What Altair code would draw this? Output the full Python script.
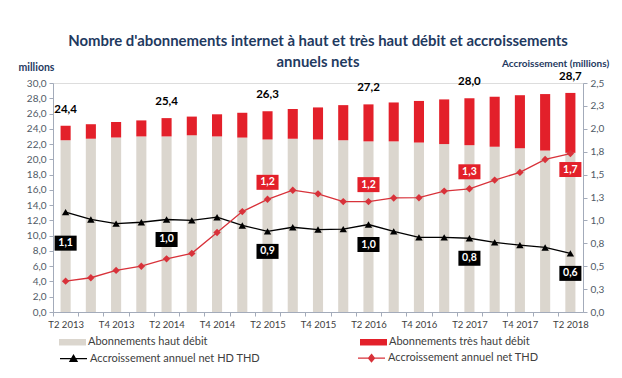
import altair as alt
import pandas as pd

quarters = ["T2 2013", "T3 2013", "T4 2013", "T1 2014", "T2 2014", "T3 2014", "T4 2014",
            "T1 2015", "T2 2015", "T3 2015", "T4 2015", "T1 2016", "T2 2016", "T3 2016",
            "T4 2016", "T1 2017", "T2 2017", "T3 2017", "T4 2017", "T1 2018", "T2 2018"]
hd = [22.5, 22.7, 22.85, 23.0, 23.0, 23.15, 23.0, 22.85, 22.6, 22.7, 22.6,
      22.5, 22.35, 22.35, 22.2, 22.0, 21.85, 21.65, 21.45, 21.15, 20.85]
thd = [1.9, 1.9, 2.05, 2.1, 2.4, 2.45, 2.9, 3.25, 3.7, 3.9, 4.2,
       4.6, 4.85, 5.1, 5.45, 5.85, 6.15, 6.55, 6.95, 7.4, 7.85]
growth_hd_thd = [1.09, 1.01, 0.965, 0.98, 1.01, 1.0, 1.035, 0.945, 0.88, 0.925, 0.9,
                 0.905, 0.955, 0.88, 0.815, 0.815, 0.805, 0.76, 0.73, 0.705, 0.64]
growth_thd = [0.337, 0.374, 0.454, 0.50, 0.58, 0.64, 0.867, 1.096, 1.23, 1.33, 1.29,
              1.205, 1.205, 1.245, 1.248, 1.32, 1.345, 1.44, 1.524, 1.665, 1.73]

bar_series = ["Abonnements haut débit", "Abonnements très haut débit"]
line_series = ["Accroissement annuel net HD THD", "Accroissement annuel net THD"]
total_label_idx = [0, 4, 8, 12, 16, 20]
hd_thd_label_idx = [0, 4, 8, 12, 16, 20]
thd_label_idx = [8, 12, 16, 20]

BEIGE = "#DBD6CE"
RED = "#E3202A"
LRED = "#D8323A"
NAVY = "#1F3A5F"
AXIS = "#A3ABBA"
FONT = "Lato"
WIDTH = 530
HALF_STEP = WIDTH / len(quarters) / 2

bars_long = pd.DataFrame(
    [{"quarter": q, "idx": i, "series": bar_series[0], "value": hd[i], "ord": 0} for i, q in enumerate(quarters)]
    + [{"quarter": q, "idx": i, "series": bar_series[1], "value": thd[i], "ord": 1} for i, q in enumerate(quarters)]
)
wide = pd.DataFrame({"quarter": quarters, "idx": list(range(len(quarters))), "hd": hd, "thd": thd})
lines_long = pd.DataFrame(
    [{"quarter": q, "idx": i, "series": line_series[0], "value": growth_hd_thd[i]} for i, q in enumerate(quarters)]
    + [{"quarter": q, "idx": i, "series": line_series[1], "value": growth_thd[i]} for i, q in enumerate(quarters)]
)

comma = "replace(format({}, '.1f'), '.', ',')"

x_axis = alt.Axis(title=None, labelAngle=0, tickSize=4, labelPadding=3,
                  tickOffset=-HALF_STEP, labelOffset=HALF_STEP,
                  labelFontSize=9.5, labelColor="#404040", labelFont=FONT, domainColor=AXIS,
                  tickColor=AXIS, labelOverlap=False,
                  labelExpr="indexof(datum.value, 'T2') === 0 || indexof(datum.value, 'T4') === 0 ? datum.value : ''")
x_enc = alt.X("quarter:N", sort=quarters, axis=x_axis,
              scale=alt.Scale(paddingInner=0.6, paddingOuter=0.3))

yl_axis = alt.Axis(title="millions", titleAngle=0, titleX=-17, titleY=-16, titleAlign="center",
                   titleBaseline="middle", titleFontSize=10.5, titleFontWeight="bold", titleColor=NAVY,
                   titleFont=FONT, values=list(range(0, 31, 2)), labelExpr=comma.format("datum.value"),
                   labelFontSize=10, labelColor="#505a66", labelFont=FONT, domainColor=AXIS, tickColor=AXIS,
                   tickSize=4, labelPadding=3, grid=False)
yl_scale = alt.Scale(domain=[0, 30], nice=False)

yr_axis = alt.Axis(title="Accroissement (millions)", orient="right", titleAngle=0, titleX=-28, titleY=-20,
                   titleAlign="center", titleBaseline="middle", titleFontSize=10, titleFontWeight="bold",
                   titleColor=NAVY, titleFont=FONT, values=[i * 0.25 for i in range(11)],
                   labelExpr=comma.format("datum.value"), labelFontSize=10, labelColor="#505a66",
                   labelFont=FONT, domainColor=AXIS, tickColor=AXIS, tickSize=4, labelPadding=3, grid=False)
yr_scale = alt.Scale(domain=[0, 2.5], nice=False)

bar_legend = alt.Legend(orient="none", legendX=6, legendY=245.5, direction="horizontal", columns=2,
                        title=None, symbolType="M-1,-0.24H1V0.24H-1Z", symbolSize=729, symbolStrokeWidth=0,
                        labelFont=FONT, labelFontSize=11, labelColor="#404040", labelOffset=2,
                        labelLimit=300, columnPadding=152, padding=0)

bars = alt.Chart(bars_long).mark_bar().encode(
    x=x_enc,
    y=alt.Y("value:Q", scale=yl_scale, axis=yl_axis, stack="zero"),
    color=alt.Color("series:N", scale=alt.Scale(domain=bar_series, range=[BEIGE, RED]), legend=bar_legend),
    order=alt.Order("ord:Q"),
)

totals = alt.Chart(wide).transform_filter(
    alt.FieldOneOfPredicate(field="idx", oneOf=total_label_idx)
).transform_calculate(
    total="datum.hd + datum.thd", lab=comma.format("datum.hd + datum.thd")
).mark_text(dy=-16, fontWeight="bold", fontSize=11.5, font=FONT, color="black").encode(
    x=x_enc,
    y=alt.Y("total:Q", scale=yl_scale, axis=yl_axis),
    text="lab:N",
)

left = alt.layer(bars, totals)

yr = alt.Y("value:Q", scale=yr_scale, axis=yr_axis)


def series_chart(name):
    return alt.Chart(lines_long).transform_filter(alt.FieldEqualPredicate(field="series", equal=name))


line_hd = series_chart(line_series[0]).mark_line(color="black", strokeWidth=1.3).encode(x=x_enc, y=yr)
line_thd = series_chart(line_series[1]).mark_line(color=LRED, strokeWidth=1.3).encode(x=x_enc, y=yr)
pts_hd = series_chart(line_series[0]).mark_point(shape="triangle-up", filled=True, color="black",
                                                  size=55, opacity=1).encode(x=x_enc, y=yr)
pts_thd = series_chart(line_series[1]).mark_point(shape="diamond", filled=True, color=LRED,
                                                   size=55, opacity=1).encode(x=x_enc, y=yr)

R = 7.5


def box_path(off):
    c = off / R
    return f"M-1.47,{c - 1:.3f}H1.47V{c + 1:.3f}H-1.47Z"


def label_layers(name, idx, color, off):
    base = series_chart(name).transform_filter(
        alt.FieldOneOfPredicate(field="idx", oneOf=idx)
    ).transform_calculate(lab=comma.format("datum.value"))
    box = base.mark_point(shape=box_path(off), size=(2 * R) ** 2, filled=True, color=color,
                          opacity=1, strokeWidth=0).encode(x=x_enc, y=yr)
    txt = base.mark_text(dy=off, color="white", fontWeight="bold", fontSize=10.5, font=FONT,
                         baseline="middle").encode(x=x_enc, y=yr, text="lab:N")
    return [box, txt]


labels = []
labels += label_layers(line_series[0], hd_thd_label_idx[:1], "black", 31)
labels += label_layers(line_series[0], hd_thd_label_idx[1:], "black", 20)
labels += label_layers(line_series[1], thd_label_idx[:-1], RED, -17)
labels += label_layers(line_series[1], thd_label_idx[-1:], RED, 16)

tri_path = "M-1,0H1M-0.26,0.2L0,-0.24L0.26,0.2Z"
dia_path = "M-1,0H1M0,-0.27L0.22,0L0,0.27L-0.22,0Z"
line_legend = alt.Legend(orient="none", legendX=6, legendY=260.5, direction="horizontal", columns=2,
                         title=None, symbolSize=729, symbolStrokeWidth=1.3, symbolOpacity=1,
                         labelFont=FONT, labelFontSize=11, labelColor="#404040", labelOffset=2,
                         labelLimit=300, columnPadding=95, padding=0)
legend_layer = alt.Chart(lines_long).transform_filter("false").mark_point(filled=True, size=729, opacity=1).encode(
    shape=alt.Shape("series:N", scale=alt.Scale(domain=line_series, range=[tri_path, dia_path]), legend=line_legend),
    fill=alt.Fill("series:N", scale=alt.Scale(domain=line_series, range=["black", LRED]), legend=line_legend),
    stroke=alt.Stroke("series:N", scale=alt.Scale(domain=line_series, range=["black", LRED]), legend=line_legend),
)

right = alt.layer(line_hd, line_thd, pts_hd, pts_thd, *labels, legend_layer)

chart = alt.layer(left, right).resolve_scale(y="independent").properties(
    width=WIDTH, height=229,
    autosize=alt.AutoSizeParams(type="none"),
    padding={"left": 45, "top": 75, "right": 31, "bottom": 55},
    title=alt.TitleParams(
        text=["Nombre d'abonnements internet à haut et très haut débit et accroissements", "annuels nets"],
        font=FONT, fontSize=14.9, fontWeight="bold", color=NAVY, anchor="middle",
        offset=0, dy=12, lineHeight=21,
    ),
).configure_view(stroke=None).configure(font=FONT)

chart.save("out.html", embed_options={"renderer": "svg", "actions": False})
